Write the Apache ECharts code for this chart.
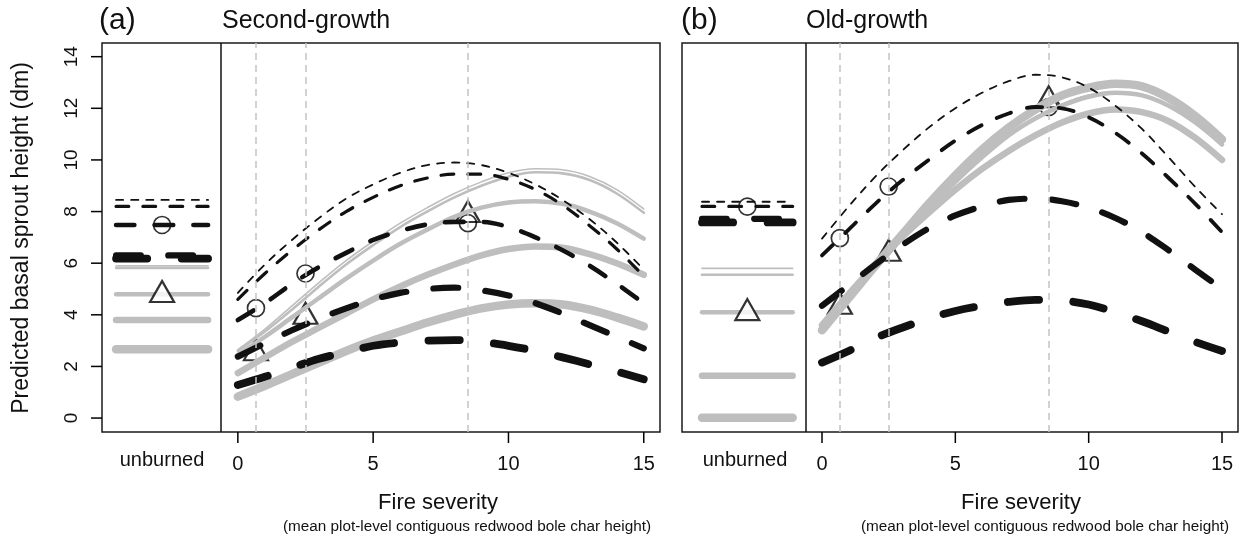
<!DOCTYPE html>
<html>
<head>
<meta charset="utf-8">
<script src="https://cdn.jsdelivr.net/npm/echarts@6/dist/echarts.min.js"></script>
<style>
  html, body { margin: 0; padding: 0; background: #fff; }
  #chart { width: 1245px; height: 542px; }
</style>
</head>
<body>
<div id="chart"></div>
<script>
// Fire severity positions (mean contiguous bole char height) at which curves are read
const severity = [0, 1, 2, 3, 4, 5, 6, 7, 8, 9, 10, 11, 12, 13, 14, 15];
// Severity values marked by the vertical reference lines and the symbols
const refSeverity = [0.67, 2.5, 8.5];
const xTicks = [0, 5, 10, 15];
const yTicks = [0, 2, 4, 6, 8, 10, 12, 14];

// (a) Second-growth: predicted curves, black dashed (thin -> thick)
const sgDash1 = [4.85, 5.95, 6.9, 7.75, 8.5, 9.05, 9.5, 9.8, 9.9, 9.8, 9.5, 9.05, 8.45, 7.7, 6.8, 5.75];
const sgDash2 = [4.6, 5.6, 6.5, 7.3, 8.0, 8.55, 9.0, 9.3, 9.45, 9.45, 9.25, 8.85, 8.25, 7.45, 6.55, 5.5];
const sgDash3 = [3.8, 4.45, 5.2, 5.85, 6.4, 6.9, 7.25, 7.5, 7.6, 7.6, 7.4, 7.0, 6.5, 5.9, 5.2, 4.45];
const sgDash4 = [2.38, 2.9, 3.4, 3.85, 4.25, 4.6, 4.85, 5.0, 5.05, 4.95, 4.75, 4.45, 4.05, 3.6, 3.15, 2.7];
const sgDash5 = [1.28, 1.6, 1.95, 2.3, 2.55, 2.8, 2.93, 3.0, 3.02, 2.95, 2.8, 2.6, 2.35, 2.08, 1.8, 1.5];
// (a) Second-growth: predicted curves, grey solid (thin -> thick)
const sgGrey1 = [2.65, 3.45, 4.35, 5.25, 6.1, 6.85, 7.55, 8.15, 8.7, 9.15, 9.5, 9.66, 9.62, 9.36, 8.85, 8.1];
const sgGrey2 = [2.6, 3.35, 4.2, 5.1, 5.95, 6.7, 7.4, 8.0, 8.55, 9.0, 9.35, 9.52, 9.48, 9.22, 8.7, 7.95];
const sgGrey3 = [2.45, 3.15, 3.9, 4.65, 5.4, 6.1, 6.75, 7.3, 7.8, 8.15, 8.35, 8.4, 8.3, 8.0, 7.55, 6.95];
const sgGrey4 = [1.74, 2.35, 2.95, 3.5, 4.05, 4.6, 5.1, 5.55, 5.95, 6.3, 6.55, 6.65, 6.6, 6.35, 6.0, 5.55];
const sgGrey5 = [0.83, 1.25, 1.7, 2.15, 2.6, 3.0, 3.35, 3.7, 4.0, 4.25, 4.4, 4.45, 4.4, 4.2, 3.9, 3.55];
// (a) unburned predictions
const sgUnburnedDash = [8.45, 8.2, 7.48, 6.3, 6.18];
const sgUnburnedGrey = [5.9, 5.82, 4.8, 3.8, 2.67];
// (a) symbols
const sgCircles = [4.26, 5.6, 7.55];
const sgTriangles = [2.65, 4.06, 8.0];
const sgUnburnedCircle = 7.48;
const sgUnburnedTriangle = 4.9;

// (b) Old-growth: predicted curves, black dashed
const ogDash1 = [6.95, 8.2, 9.35, 10.35, 11.25, 12.0, 12.6, 13.05, 13.3, 13.2, 12.8, 12.1, 11.2, 10.1, 8.95, 7.9];
const ogDash2 = [6.3, 7.3, 8.3, 9.2, 10.0, 10.75, 11.35, 11.8, 12.05, 12.0, 11.65, 11.05, 10.25, 9.3, 8.3, 7.2];
const ogDash3 = [4.35, 5.15, 5.95, 6.7, 7.35, 7.85, 8.2, 8.45, 8.5, 8.4, 8.15, 7.75, 7.2, 6.5, 5.75, 5.0];
const ogDash4 = [2.15, 2.6, 3.1, 3.5, 3.85, 4.15, 4.35, 4.5, 4.58, 4.55, 4.4, 4.1, 3.75, 3.35, 2.95, 2.6];
// (b) Old-growth: predicted curves, grey solid
const ogGrey1 = [3.55, 4.75, 5.9, 7.05, 8.15, 9.2, 10.15, 11.0, 11.65, 12.15, 12.5, 12.6, 12.5, 12.1, 11.45, 10.6];
const ogGrey2 = [3.5, 4.7, 5.9, 7.05, 8.15, 9.2, 10.15, 11.0, 11.65, 12.15, 12.5, 12.62, 12.52, 12.12, 11.45, 10.6];
const ogGrey3 = [3.55, 4.7, 5.85, 7.0, 8.1, 9.15, 10.1, 10.95, 11.6, 12.1, 12.45, 12.6, 12.5, 12.1, 11.45, 10.6];
const ogGrey4 = [3.6, 4.8, 5.95, 7.0, 7.95, 8.85, 9.65, 10.35, 10.95, 11.45, 11.8, 11.95, 11.85, 11.5, 10.85, 10.0];
const ogGrey5 = [3.4, 4.65, 5.9, 7.1, 8.3, 9.4, 10.4, 11.25, 11.95, 12.5, 12.8, 12.95, 12.85, 12.4, 11.7, 10.8];
// (b) unburned predictions
const ogUnburnedDash = [8.38, 8.2, 7.72, 7.58];
const ogUnburnedGrey = [5.8, 5.55, 4.1, 1.64, 0.01];
// (b) symbols
const ogCircles = [6.97, 8.97, 12.05];
const ogTriangles = [4.45, 6.5, 12.45];
const ogUnburnedCircle = 8.19;
const ogUnburnedTriangle = 4.2;

// Horizontal extent of the unburned segments and the symbol position, in axis units
const unburnedSpan = [-4.5, -1.1];
const unburnedMid = -2.8;
const divider = -0.62;
// Axis extents
const yRange = [-0.54, 14.53];
const xMins = [-5.02, -5.25];
const xMax = 15.6;

const FONT = '"Liberation Sans", Arial, Helvetica, sans-serif';
const BLACK = '#111';
const GREY = '#bebebe';
const FRAME = '#1a1a1a';
const TICK_LEN = 11;

// Panel frames
const boxes = [
  { left: 102, top: 43, width: 558, height: 389 },
  { left: 682, top: 43, width: 556, height: 389 }
];

function curve(vals) { return severity.map((x, i) => [x, vals[i]]); }
function flat(v) { return [[unburnedSpan[0], v], [unburnedSpan[1], v]]; }

function dashStyle(w) { return { color: BLACK, width: w, type: [4 * w, 4.4 * w], cap: 'round', join: 'round' }; }
function greyStyle(w) { return { color: GREY, width: w, type: 'solid', cap: 'round', join: 'round' }; }

function lineSeries(idx, data, lineStyle, z) {
  return {
    type: 'line', xAxisIndex: idx, yAxisIndex: idx, data: data,
    smooth: 0.35, showSymbol: false, symbol: 'none', silent: true,
    lineStyle: lineStyle, z: z
  };
}

function markerSeries(idx, data, kind, z) {
  const circle = kind === 'circle';
  return {
    type: 'scatter', xAxisIndex: idx, yAxisIndex: idx, data: data, silent: true, z: z,
    symbol: circle ? 'circle' : 'triangle',
    symbolSize: circle ? 17 : [24, 21],
    itemStyle: circle
      ? { color: 'rgba(0,0,0,0)', borderColor: '#000', borderWidth: 1.7 }
      : { color: '#fff', borderColor: '#000', borderWidth: 2.2 }
  };
}

function guideSeries(idx) {
  return {
    type: 'line', xAxisIndex: idx, yAxisIndex: idx, data: [], silent: true, z: 1,
    markLine: {
      silent: true, symbol: ['none', 'none'], label: { show: false }, animation: false,
      data: refSeverity.map(v => ({ xAxis: v, lineStyle: { color: '#c4c4c4', width: 1.5, type: [7, 5] } }))
        .concat([{ xAxis: divider, lineStyle: { color: BLACK, width: 1.5, type: 'solid' } }])
    }
  };
}

function panelSeries(idx, dashes, dashW, greys, greyW, unDash, unDashW, unGrey, circles, triangles, unCircle, unTriangle) {
  const s = [guideSeries(idx)];
  // symbols placed under the burned curves
  s.push(markerSeries(idx, refSeverity.map((x, i) => [x, triangles[i]]), 'triangle', 2));
  s.push(markerSeries(idx, refSeverity.map((x, i) => [x, circles[i]]), 'circle', 2));
  s.push(markerSeries(idx, [[unburnedMid, unCircle]], 'circle', 2));
  greys.forEach((g, i) => s.push(lineSeries(idx, curve(g), greyStyle(greyW[i]), 3)));
  dashes.forEach((d, i) => s.push(lineSeries(idx, curve(d), dashStyle(dashW[i]), 4)));
  unGrey.forEach((v, i) => s.push(lineSeries(idx, flat(v), greyStyle(greyW[i]), 3)));
  unDash.forEach((v, i) => s.push(lineSeries(idx, flat(v), dashStyle(unDashW[i]), 4)));
  s.push(markerSeries(idx, [[unburnedMid, unTriangle]], 'triangle', 5));
  return s;
}

const greyWidths = [1.6, 2.6, 4.5, 6.5, 8.5];
const sgSeries = panelSeries(0,
  [sgDash1, sgDash2, sgDash3, sgDash4, sgDash5], [1.8, 3.2, 4.6, 6.2, 7.8],
  [sgGrey1, sgGrey2, sgGrey3, sgGrey4, sgGrey5], greyWidths,
  sgUnburnedDash, [1.8, 3.2, 4.6, 6.2, 7.8], sgUnburnedGrey,
  sgCircles, sgTriangles, sgUnburnedCircle, sgUnburnedTriangle);
const ogSeries = panelSeries(1,
  [ogDash1, ogDash2, ogDash3, ogDash4], [1.8, 3.8, 6.2, 7.8],
  [ogGrey1, ogGrey2, ogGrey3, ogGrey4, ogGrey5], greyWidths,
  ogUnburnedDash, [1.8, 3.2, 6.2, 7.8], ogUnburnedGrey,
  ogCircles, ogTriangles, ogUnburnedCircle, ogUnburnedTriangle);

function xAxis(idx) {
  return {
    type: 'value', gridIndex: idx, min: xMins[idx], max: xMax,
    axisLine: { show: false, onZero: false }, splitLine: { show: false },
    axisTick: { show: false },
    axisLabel: { show: true, customValues: xTicks, margin: 22, fontSize: 20, fontFamily: FONT, color: BLACK }
  };
}
function yAxis(idx, withLabels) {
  return {
    type: 'value', gridIndex: idx, min: yRange[0], max: yRange[1],
    axisLine: { show: false, onZero: false }, splitLine: { show: false },
    axisTick: { show: false },
    axisLabel: { show: withLabels, customValues: yTicks, rotate: 90, margin: 21, fontSize: 19, fontFamily: FONT, color: BLACK }
  };
}

function text(str, x, y, size, align, extra) {
  return Object.assign({
    type: 'text', x: x, y: y, silent: true,
    style: { text: str, font: size + 'px ' + FONT, fill: BLACK, align: align, verticalAlign: 'middle' }
  }, extra || {});
}

// Outward tick marks on the panel frames, at the tick values of each axis
function xPos(g, v) { const b = boxes[g]; return b.left + (v - xMins[g]) / (xMax - xMins[g]) * b.width; }
function yPos(g, v) { const b = boxes[g]; return b.top + (yRange[1] - v) / (yRange[1] - yRange[0]) * b.height; }
function tickLine(x1, y1, x2, y2) {
  return { type: 'polyline', silent: true, z: 100, zlevel: 1,
    shape: { points: [[x1, y1], [x2, y2]] }, style: { stroke: '#000', lineWidth: 1.5, fill: null } };
}
const tickMarks = [];
[0, 1].forEach(g => xTicks.forEach(v => {
  const x = xPos(g, v), y = boxes[g].top + boxes[g].height;
  tickMarks.push(tickLine(x, y, x, y + TICK_LEN));
}));
yTicks.forEach(v => {
  const y = yPos(0, v), x = boxes[0].left;
  tickMarks.push(tickLine(x, y, x - TICK_LEN, y));
});

const labels = [
  text('(a)', 99, 21, 30, 'left'),
  text('Second-growth', 222, 21, 25, 'left'),
  text('(b)', 681, 21, 30, 'left'),
  text('Old-growth', 806, 21, 25, 'left'),
  text('unburned', 162, 460, 20, 'center'),
  text('unburned', 745, 460, 20, 'center'),
  text('Fire severity', 438, 503, 22, 'center'),
  text('Fire severity', 1021, 503, 22, 'center'),
  text('(mean plot-level contiguous redwood bole char height)', 467, 527, 15.3, 'center'),
  text('(mean plot-level contiguous redwood bole char height)', 1045, 527, 15.3, 'center'),
  text('Predicted basal sprout height (dm)', 22, 238, 23, 'center', { rotation: Math.PI / 2 })
];

const option = {
  animation: false,
  backgroundColor: '#fff',
  grid: boxes.map(b => Object.assign({ show: true, borderColor: FRAME, borderWidth: 1.5, backgroundColor: 'transparent' }, b)),
  xAxis: [xAxis(0), xAxis(1)],
  yAxis: [yAxis(0, true), yAxis(1, false)],
  series: sgSeries.concat(ogSeries),
  graphic: { elements: labels.concat(tickMarks) }
};

const chart = echarts.init(document.getElementById('chart'), null, { renderer: 'canvas' });
chart.setOption(option);
</script>
</body>
</html>
